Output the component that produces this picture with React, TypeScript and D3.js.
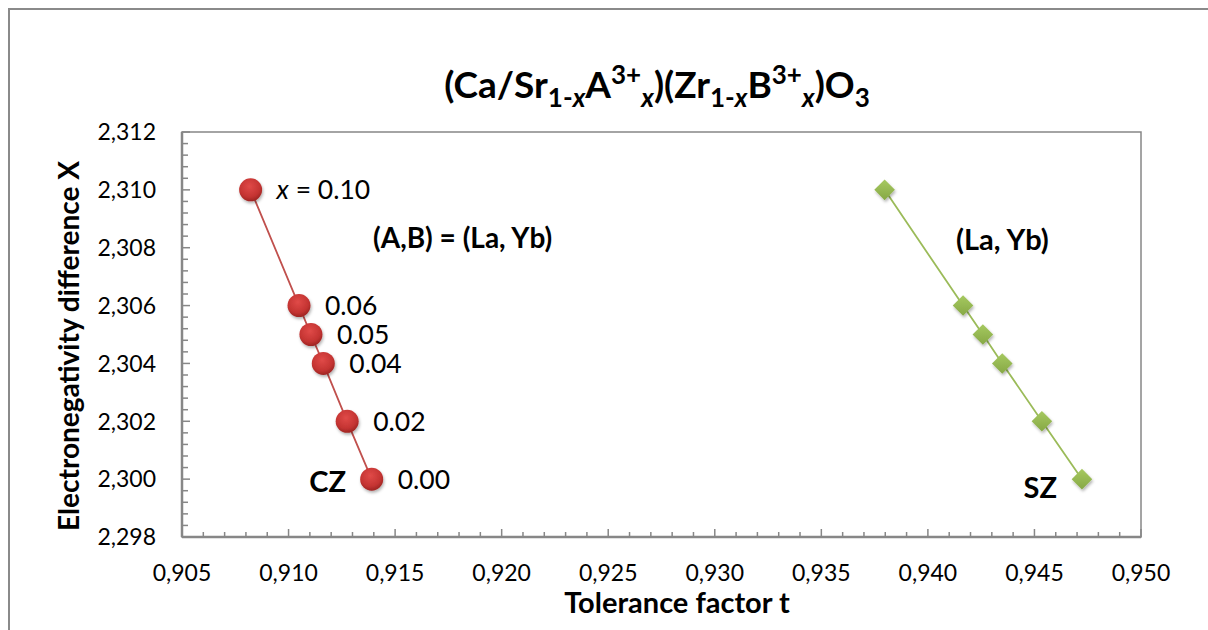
import React from "react";
import * as d3 from "d3";

// CZ series: (Ca1-xLax)(Zr1-xYbx)O3
const czT = [0.90822, 0.91049, 0.91105, 0.91163, 0.91275, 0.9139];
const czX = [2.31, 2.306, 2.305, 2.304, 2.302, 2.3];
const czLabels = ["0.10", "0.06", "0.05", "0.04", "0.02", "0.00"];

// SZ series: (Sr1-xLax)(Zr1-xYbx)O3
const szT = [0.93797, 0.94165, 0.94258, 0.94349, 0.94535, 0.94723];
const szX = [2.31, 2.306, 2.305, 2.304, 2.302, 2.3];

const xMajor = [0.905, 0.91, 0.915, 0.92, 0.925, 0.93, 0.935, 0.94, 0.945, 0.95];
const yMajor = [2.298, 2.3, 2.302, 2.304, 2.306, 2.308, 2.31, 2.312];

const W = 1208;
const H = 630;
const left = 182, right = 1141, top = 132, bottom = 537;
const font = "Lato, 'Open Sans', sans-serif";
const axisGray = "#878787";

const comma = (f: string) => (v: number) => d3.format(f)(v).replace(".", ",");

export default function App() {
  const x = d3.scaleLinear().domain([0.905, 0.95]).range([left, right]);
  const y = d3.scaleLinear().domain([2.298, 2.312]).range([bottom, top]);

  const xMinor = d3.range(0, 46).map(i => 0.905 + i * 0.001);
  const yMinor = d3.range(0, 36).map(i => 2.298 + i * 0.0004);

  const cz = czT.map((t, i) => ({ t, v: czX[i], label: czLabels[i] }));
  const sz = szT.map((t, i) => ({ t, v: szX[i] }));

  const line = d3.line<{ t: number; v: number }>().x(d => x(d.t)).y(d => y(d.v));
  const diamond = d3.symbol().type(d3.symbolDiamond2).size(270)();

  return (
    <svg width={W} height={H} style={{ position: "absolute", left: 0, top: 0, background: "#fff" }}
      fontFamily={font}>
      <defs>
        <radialGradient id="redBall" cx="45%" cy="35%" r="65%">
          <stop offset="0%" stopColor="#e04a48" />
          <stop offset="70%" stopColor="#c43432" />
          <stop offset="100%" stopColor="#9e2523" />
        </radialGradient>
        <linearGradient id="greenDia" x1="0" y1="0" x2="0" y2="1">
          <stop offset="0%" stopColor="#a6c960" />
          <stop offset="100%" stopColor="#86a845" />
        </linearGradient>
        <filter id="shadow" x="-50%" y="-50%" width="200%" height="200%">
          <feDropShadow dx="1" dy="2" stdDeviation="1.5" floodColor="#000" floodOpacity="0.3" />
        </filter>
      </defs>

      {/* chart border */}
      <rect x={9} y={9} width={W + 20} height={H + 20} fill="none" stroke="#8a8a8a" strokeWidth={2} />

      {/* title */}
      <text x={657} y={98} textAnchor="middle" fontSize={37} fontWeight="bold" fill="#000">
        <tspan>(Ca/Sr</tspan>
        <tspan fontSize={26} dy={9}>1-</tspan>
        <tspan fontSize={26} fontStyle="italic">x</tspan>
        <tspan dy={-9}>A</tspan>
        <tspan fontSize={26} dy={-14}>3+</tspan>
        <tspan fontSize={26} fontStyle="italic" dy={23}>x</tspan>
        <tspan dy={-9}>)(Zr</tspan>
        <tspan fontSize={26} dy={9}>1-</tspan>
        <tspan fontSize={26} fontStyle="italic">x</tspan>
        <tspan dy={-9}>B</tspan>
        <tspan fontSize={26} dy={-14}>3+</tspan>
        <tspan fontSize={26} fontStyle="italic" dy={23}>x</tspan>
        <tspan dy={-9}>)O</tspan>
        <tspan fontSize={26} dy={9}>3</tspan>
      </text>

      {/* plot area */}
      <rect x={left} y={top} width={right - left} height={bottom - top} fill="#fff" stroke={axisGray} strokeWidth={1.5} />

      {/* ticks */}
      {xMinor.map((t, i) => (
        <line key={"xm" + i} x1={x(t)} x2={x(t)} y1={bottom} y2={bottom - (i % 5 === 0 ? 8 : 5)}
          stroke={axisGray} strokeWidth={1.5} />
      ))}
      {yMinor.map((v, i) => (
        <line key={"ym" + i} x1={left} x2={left + (i % 5 === 0 ? 8 : 6)} y1={y(v)} y2={y(v)}
          stroke={axisGray} strokeWidth={1.5} />
      ))}
      <line x1={left} x2={right} y1={bottom} y2={bottom} stroke={axisGray} strokeWidth={2.5} />
      <line x1={left} x2={left} y1={top} y2={bottom} stroke={axisGray} strokeWidth={2.5} />

      {/* tick labels */}
      {xMajor.map(t => (
        <text key={"xl" + t} x={x(t)} y={581} textAnchor="middle" fontSize={23} fill="#000">
          {comma(".3f")(t)}
        </text>
      ))}
      {yMajor.map(v => (
        <text key={"yl" + v} x={156} y={y(v)} dy="0.36em" textAnchor="end" fontSize={23} fill="#000">
          {comma(".3f")(v)}
        </text>
      ))}

      {/* axis titles */}
      <text x={677} y={613} textAnchor="middle" fontSize={29} fontWeight="bold" fill="#000">Tolerance factor t</text>
      <text transform={`translate(79,346) rotate(-90)`} textAnchor="middle" fontSize={28} fontWeight="bold" fill="#000">
        Electronegativity difference X
      </text>

      {/* series lines */}
      <path d={line(cz) || ""} fill="none" stroke="#c0504d" strokeWidth={1.8} />
      <path d={line(sz) || ""} fill="none" stroke="#9bbb59" strokeWidth={1.8} />

      {/* markers */}
      {cz.map((d, i) => (
        <circle key={"cz" + i} cx={x(d.t)} cy={y(d.v)} r={11.5} fill="url(#redBall)" filter="url(#shadow)" />
      ))}
      {sz.map((d, i) => (
        <path key={"sz" + i} d={diamond || ""} transform={`translate(${x(d.t)},${y(d.v)})`}
          fill="url(#greenDia)" filter="url(#shadow)" />
      ))}

      {/* data labels */}
      {cz.map((d, i) => (
        <text key={"lab" + i} x={x(d.t) + 26} y={y(d.v)} dy="0.36em" fontSize={26.5} fill="#000">
          {i === 0 ? (
            <>
              <tspan fontStyle="italic">x</tspan>
              <tspan> = {d.label}</tspan>
            </>
          ) : d.label}
        </text>
      ))}

      {/* annotations */}
      <text x={373} y={248} fontSize={28} fontWeight="bold" fill="#000">(A,B) = (La, Yb)</text>
      <text x={956} y={250} fontSize={29} fontWeight="bold" fill="#000">(La, Yb)</text>
      <text x={346} y={492} textAnchor="end" fontSize={29} fontWeight="bold" fill="#000">CZ</text>
      <text x={1057} y={498} textAnchor="end" fontSize={29} fontWeight="bold" fill="#000">SZ</text>
    </svg>
  );
}
